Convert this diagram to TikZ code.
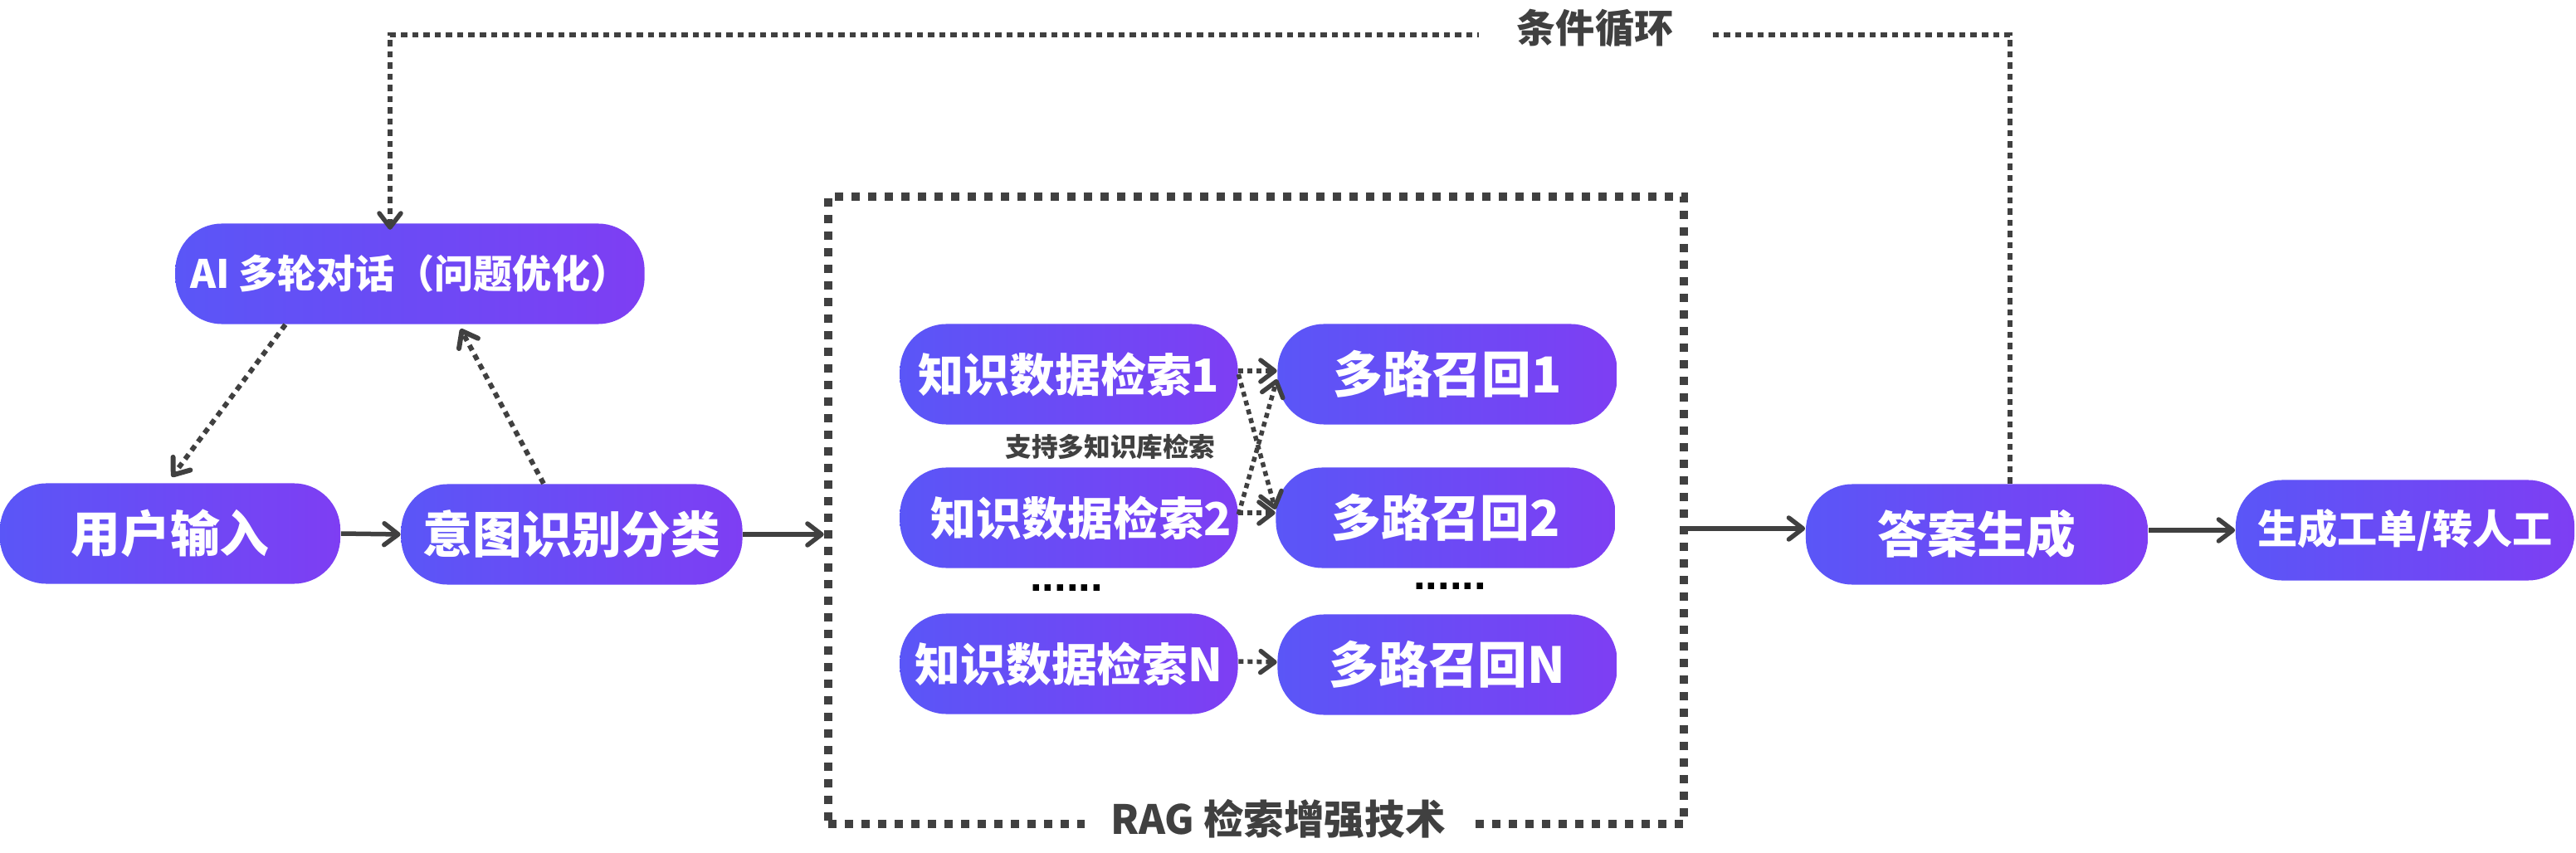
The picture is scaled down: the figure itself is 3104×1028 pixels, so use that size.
\documentclass[tikz,border=0pt]{standalone}
\usepackage{fontspec}
\setmainfont{Noto Sans CJK SC}
\newfontfamily\dotfont{Liberation Sans}
\usetikzlibrary{arrows.meta}
\definecolor{gl}{HTML}{5A56F7}
\definecolor{gr}{HTML}{7E3EF3}
\definecolor{ink}{HTML}{404040}
\tikzset{
  pill/.style={rounded corners=0.56cm, left color=gl, right color=gr, text=white,
    font=\bfseries\fontsize{17pt}{20pt}\selectfont, minimum height=1.21cm, inner sep=0pt},
  ksize/.style={font=\bfseries\fontsize{15.6pt}{18pt}\selectfont},
  barbtip/.style={-{Straight Barb[length=0.17cm,width=0.26cm,round]}},
  solidarrow/.style={draw=ink, line width=0.055cm, barbtip},
  dotarrow/.style={draw=ink, line width=0.06cm, dash pattern=on 0.07cm off 0.06cm, barbtip},
  crossarrow/.style={draw=ink, line width=0.055cm, dash pattern=on 0.06cm off 0.05cm, barbtip},
  loopline/.style={draw=ink, line width=0.055cm, dash pattern=on 0.075cm off 0.06cm},
  ragbox/.style={draw=ink, line width=0.1cm, dash pattern=on 0.1cm off 0.1cm,
    minimum width=10.31cm, minimum height=7.56cm, inner sep=0pt},
  lbl/.style={text=ink, fill=white, inner ysep=2pt},
  dots/.style={text=black, inner sep=0pt, font=\dotfont\bfseries\fontsize{15pt}{18pt}\selectfont},
}
\begin{document}
\begin{tikzpicture}[x=0.01cm, y=-0.01cm]
\useasboundingbox (0,0) rectangle (3104,1028);

% RAG dashed box
\node[ragbox] (rag) at (1513.5,615) {};

% main nodes
\node[pill, minimum width=4.10cm] (user) at (205,643) {用户输入};
\node[pill, minimum width=4.11cm] (intent) at (689,644) {意图识别分类};
\node[pill, minimum width=5.65cm, font=\bfseries\fontsize{13.4pt}{16pt}\selectfont] (ai) at (494,330) {AI 多轮对话（问题优化）};

\node[pill, ksize, minimum width=4.07cm] (k1) at (1288,451) {知识数据检索1};
\node[pill, ksize, minimum width=4.07cm] (k2) at (1288,624) {\hspace{0.3cm}知识数据检索2};
\node[pill, ksize, minimum width=4.07cm] (kN) at (1288,800) {知识数据检索N};

\node[pill, minimum width=4.09cm] (m1) at (1744,451) {多路召回1};
\node[pill, minimum width=4.09cm] (m2) at (1742,624) {多路召回2};
\node[pill, minimum width=4.09cm] (mN) at (1744,801) {多路召回N};

\node[pill, minimum width=4.12cm] (ans) at (2382,644) {答案生成};
\node[pill, minimum width=4.08cm, font=\bfseries\fontsize{13.7pt}{16pt}\selectfont] (work) at (2898,639) {生成工单/转人工};

% dots and side label
\node[dots] (dl) at (1285,709) {......};
\node[dots] (dr) at (1747,707) {......};
\node[text=ink, font=\bfseries\fontsize{9pt}{11pt}\selectfont] (supp) at (1338,538) {支持多知识库检索};

% main flow arrows
\draw[solidarrow] (user.east) -- (intent.west);
\draw[solidarrow] (intent.east) -- (intent.east -| rag.west);
\draw[solidarrow] ([yshift=0.07cm]ans.west -| rag.east) -- ([yshift=0.07cm]ans.west);
\draw[solidarrow] (work.west -| ans.east) -- (work.west);

% dialogue arrows
\draw[dotarrow] ([xshift=-1.5cm]ai.south) -- ([xshift=0.02cm,yshift=0.07cm]user.north);
\draw[dotarrow] ([xshift=-0.34cm]intent.north) -- ([xshift=0.61cm,yshift=-0.05cm]ai.south);

% retrieval to recall
\draw[crossarrow] ([yshift=0.04cm]k1.east) -- ([yshift=0.04cm]m1.west);
\draw[crossarrow] (k1.east) -- ([yshift=0.1cm]m2.west);
\draw[crossarrow] ([yshift=0.04cm]k2.east) -- ([yshift=-0.06cm]m1.west);
\draw[crossarrow] ([yshift=0.06cm]k2.east) -- ([yshift=0.06cm]m2.west);
\draw[crossarrow] ([yshift=0.03cm]kN.east) -- ([yshift=0.03cm]mN.west);

% condition loop
\coordinate (lr) at (2422,42);
\coordinate (ll) at (470,42);
\draw[loopline, barbtip, shorten >=-0.08cm] (ans.north -| lr) -- (lr) -- (ll) -- (ai.north -| ll);
\node[lbl, inner xsep=0.46cm, font=\bfseries\fontsize{13.4pt}{16pt}\selectfont] (cond) at (1922,34) {条件循环};

% RAG label
\node[lbl, inner xsep=0.31cm, font=\bfseries\fontsize{13.8pt}{16pt}\selectfont] (raglbl) at (1540,987) {RAG 检索增强技术};
\end{tikzpicture}
\end{document}
